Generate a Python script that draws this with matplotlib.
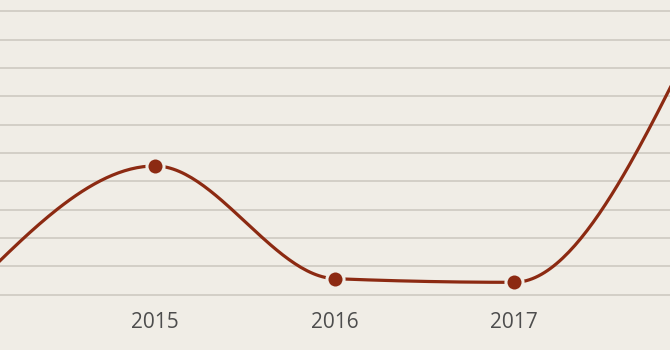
import numpy as np
import matplotlib
matplotlib.use("Agg")
import matplotlib.pyplot as plt

# Data
years = [2014, 2015, 2016, 2017, 2018]
values = [3.4, 45.4, 5.6, 4.3, 89.5]
marker_years = [2015, 2016, 2017]
marker_values = [45.4, 5.6, 4.3]
tick_years = [2015, 2016, 2017]
tick_labels = ["2015", "2016", "2017"]

BG = "#f0ede6"
LINE = "#8c2a12"
GRID = "#d3cfc7"
TEXT = "#4d4d4d"


def monotone_x(xs, ys, n=60):
    xs = np.asarray(xs, float)
    ys = np.asarray(ys, float)
    h = np.diff(xs)
    s = np.diff(ys) / h
    m = np.zeros_like(ys)
    for i in range(1, len(xs) - 1):
        s0, s1 = s[i - 1], s[i]
        p = (s0 * h[i] + s1 * h[i - 1]) / (h[i - 1] + h[i])
        m[i] = (np.sign(s0) + np.sign(s1)) * min(abs(s0), abs(s1), 0.5 * abs(p))
    m[0] = (3 * s[0] - m[1]) / 2
    m[-1] = (3 * s[-1] - m[-2]) / 2
    out_x, out_y = [], []
    for i in range(len(xs) - 1):
        t = np.linspace(0, 1, n)
        h00 = 2 * t**3 - 3 * t**2 + 1
        h10 = t**3 - 2 * t**2 + t
        h01 = -2 * t**3 + 3 * t**2
        h11 = t**3 - t**2
        yy = h00 * ys[i] + h10 * h[i] * m[i] + h01 * ys[i + 1] + h11 * h[i] * m[i + 1]
        out_x.append(xs[i] + t * h[i])
        out_y.append(yy)
    return np.concatenate(out_x), np.concatenate(out_y)


fig = plt.figure(figsize=(6.7, 3.5), dpi=100, facecolor=BG)
ax = fig.add_axes([0, 50 / 350, 1, 300 / 350])
ax.set_facecolor(BG)

px_per_year = 179.5
x_left = 2014 + 24.5 / px_per_year
ax.set_xlim(x_left, x_left + 670 / px_per_year)
ax.set_ylim(-1.94, 104.0)

ax.set_yticks(np.arange(0, 101, 10))
ax.yaxis.grid(True, color=GRID, linewidth=1.4)
ax.set_axisbelow(True)
ax.tick_params(axis="y", left=False, labelleft=False)

ax.set_xticks(tick_years)
ax.set_xticklabels(tick_labels)
ax.tick_params(axis="x", length=0, pad=8.5, labelsize=15, labelcolor=TEXT)
for lab in ax.get_xticklabels():
    lab.set_fontfamily(["Open Sans", "DejaVu Sans"])

for sp in ax.spines.values():
    sp.set_visible(False)

cx, cy = monotone_x(years, values)
ax.plot(cx, cy, color=LINE, linewidth=2.3, solid_capstyle="round", zorder=3)
ax.plot(marker_years, marker_values, linestyle="none", marker="o",
        markersize=12.3, markerfacecolor=LINE, markeredgecolor=BG,
        markeredgewidth=2.2, zorder=4)

fig.savefig("out.png", dpi=100, facecolor=BG)
